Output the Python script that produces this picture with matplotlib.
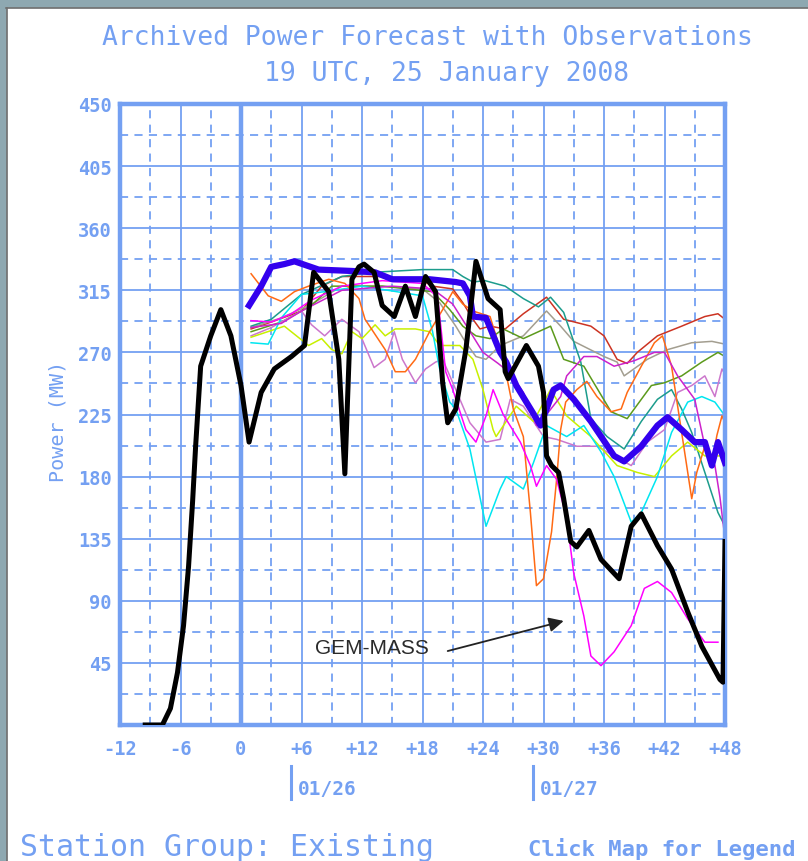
import matplotlib
matplotlib.use("Agg")
import matplotlib.pyplot as plt
from matplotlib.lines import Line2D
from matplotlib.patches import Rectangle
import numpy as np

# ---------------- data ----------------
x_ticks = [-12, -6, 0, 6, 12, 18, 24, 30, 36, 42, 48]
x_labels = ["-12", "-6", "0", "+6", "+12", "+18", "+24", "+30", "+36", "+42", "+48"]
y_ticks = [45, 90, 135, 180, 225, 270, 315, 360, 405, 450]
date_pos = [5, 29]
date_labels = ["01/26", "01/27"]

obs_h = [-9.5, -7.8, -7, -6.3, -5.7, -5.2, -4.8, -4.5, -4, -3, -2, -1, 0, 0.8, 2, 3.3, 5, 6.3, 7.2,
         8.7, 9.7, 10.3, 11, 11.7, 12.2, 13.2, 14, 15.2, 16.3, 17.3, 18.3, 19.3, 20, 20.5, 21.3, 22.3,
         23.3, 24.5, 25.7, 26.2, 26.5, 28.3, 29.5, 30, 30.3, 30.8, 31.5, 32, 32.7, 33.3, 34.5, 35.7,
         37.5, 38.7, 39.7, 41.3, 42.7, 44.3, 45.7, 47.5, 47.8, 48]
obs_mw = [0, 0, 12, 38, 72, 115, 162, 202, 260, 282, 301, 282, 246, 205, 241, 258, 267, 275, 328,
          314, 265, 182, 323, 332, 334, 328, 304, 296, 318, 296, 325, 314, 248, 219, 229, 272,
          336, 309, 301, 256, 251, 275, 260, 241, 195, 188, 183, 164, 133, 129, 141, 120,
          106, 144, 153, 130, 113, 82, 57, 33, 31, 133]

mean_h = [0.8, 2, 3, 4.3, 5.3, 7.7, 11, 13.3, 15, 18.7, 21.3, 22, 22.7, 23, 24.3, 25.7, 26.3, 27.3,
          29.3, 29.7, 31, 31.7, 33, 34.7, 37, 38, 39.7, 41.3, 42.3, 43.7, 45, 46, 46.7, 47.3, 48]
mean_mw = [304, 318, 332, 334, 336, 330, 329, 328, 323, 323, 321, 320, 311, 296, 295, 270, 263, 246,
           222, 217, 243, 246, 236, 220, 195, 191, 202, 217, 223, 214, 205, 205, 188, 205, 190]

red_h = [1, 3, 6, 8, 10, 14, 18, 19, 21, 22, 23, 23.7, 24.7, 26.2, 28, 30.3, 32, 34.7, 36, 37.3,
         38.3, 39.3, 41.3, 43.7, 46, 47.3, 48]
red_mw = [287, 292, 300, 318, 325, 325, 322, 318, 316, 306, 294, 287, 289, 287, 298, 310, 294, 289,
          282, 265, 262, 270, 282, 289, 296, 298, 294]

gray_h = [1, 4, 7, 10, 14, 18, 19.7, 21.3, 22.3, 23.3, 24.3, 25.7, 28, 30.3, 31.7, 33, 36, 37.3, 38,
          40.3, 42.3, 44.7, 46.7, 48]
gray_mw = [288, 295, 305, 318, 318, 316, 306, 289, 277, 267, 265, 275, 282, 300, 289, 278, 267, 263,
           253, 265, 272, 277, 278, 276]

olive_h = [1, 4, 7, 9, 14, 19, 20.7, 22, 23.3, 24.7, 26, 28, 30.7, 32, 34, 36.7, 38.3, 40.7, 42,
           43.7, 45.7, 47.3, 48]
olive_mw = [285, 292, 304, 318, 318, 314, 301, 289, 282, 280, 287, 280, 289, 265, 260, 227, 222, 246,
            248, 253, 263, 270, 267]

teal_h = [1, 3, 6, 10, 13, 18, 21, 22, 23, 24.2, 26.2, 28, 29.5, 30.7, 32, 33.7, 34.7, 36.3, 38,
          39.7, 41.3, 42.7, 43.7, 44.7, 46, 47.3, 48]
teal_mw = [289, 294, 312, 325, 328, 330, 330, 325, 321, 322, 318, 309, 303, 310, 299, 263, 222, 209,
           200, 220, 236, 243, 229, 212, 183, 154, 144]

cyan_h = [1, 2.7, 4, 6, 8.3, 12, 18, 19, 19.7, 20.7, 21.3, 22.7, 24.3, 25.7, 26.3, 28, 29, 30.3,
          32.3, 34, 35.7, 37, 38.7, 39.7, 41.3, 42.7, 44.3, 45.7, 47, 48]
cyan_mw = [277, 276, 295, 312, 314, 318, 311, 285, 258, 234, 229, 200, 144, 171, 180, 171, 190, 217,
           209, 217, 198, 180, 147, 154, 180, 212, 234, 238, 234, 224]

gem_h = [1, 3, 5, 7, 10, 14, 18, 19.5, 20.3, 21, 22.3, 23.3, 24.3, 25, 26, 27.7, 28.7, 29.3, 30.3,
         31.3, 32.3, 33, 34, 34.7, 35.7, 37, 38.7, 40, 41.3, 42.7, 44.3, 46, 47.3]
gem_mw = [293, 292, 298, 308, 318, 322, 320, 310, 256, 243, 214, 205, 224, 243, 225, 205, 188, 173,
          188, 178, 150, 110, 79, 50, 43, 53, 72, 99, 104, 96, 77, 60, 60]

purple_h = [1, 4, 6, 10, 15, 19, 21, 22.3, 24, 25.5, 26.7, 28, 29.3, 30.3, 31.7, 32.3, 34, 35.3, 37,
            39, 41, 42, 43.3, 45, 46, 47, 47.5, 48]
purple_mw = [288, 291, 300, 315, 318, 316, 305, 290, 270, 262, 255, 241, 217, 225, 238, 253, 267, 267,
             260, 264, 270, 270, 253, 236, 202, 188, 165, 135]

orchid_h = [1, 3, 6, 7, 8.3, 10, 11.7, 13.2, 14.3, 15.2, 16, 17.3, 18.3, 19.3, 20, 21.3, 22.7, 24.3,
            25.7, 26.7, 28, 30, 31.3, 33.3, 35.3, 37, 38.7, 40.3, 42, 43.3, 44.7, 46, 47, 47.7, 48]
orchid_mw = [282, 288, 300, 290, 282, 294, 285, 259, 265, 285, 265, 248, 258, 263, 265, 243, 219, 205,
             207, 236, 231, 209, 207, 202, 202, 195, 188, 205, 214, 241, 246, 253, 238, 258, 254]

ygreen_h = [1, 4.3, 6.7, 8, 9, 10, 11, 12, 13.3, 14.3, 15.3, 17.3, 18.7, 19.7, 21.7, 23, 24, 25,
            25.3, 27.3, 29, 30.7, 32.3, 34.7, 37.3, 39.3, 41, 42.7, 44.3, 46, 47.7, 48]
ygreen_mw = [281, 289, 275, 280, 272, 269, 285, 280, 290, 282, 287, 287, 285, 275, 275, 265, 243, 214,
             209, 231, 220, 243, 224, 209, 188, 183, 180, 195, 205, 195, 195, 200]

orange_h = [1, 2.7, 4, 5.3, 6.7, 8.7, 10.3, 11.7, 12.3, 13.3, 14.3, 15.3, 16.3, 17.3, 18.7, 20, 21,
            22, 23, 24.7, 26, 27, 28, 28.7, 29.3, 30, 30.8, 31.3, 31.7, 32.2, 33.3, 34.3, 35.3,
            36.7, 37.7, 38.3, 39.7, 41, 41.8, 42.7, 43.7, 44.7, 45.2, 46, 46.7, 47.2, 47.7, 48]
orange_mw = [327, 311, 307, 314, 318, 323, 320, 309, 294, 283, 272, 256, 256, 265, 285, 301, 314,
             305, 300, 296, 265, 229, 209, 154, 101, 106, 140, 178, 214, 234, 243, 249, 238,
             227, 229, 241, 260, 277, 282, 260, 212, 164, 183, 202, 190, 210, 224, 219]

annot_text = "GEM-MASS"

# ---------------- style ----------------
UI = "#74a0f2"
plt.rcParams['font.family'] = ['DejaVu Sans Mono', 'DejaVu Sans']

fig = plt.figure(figsize=(8.08, 8.62), dpi=100, facecolor="white")
W, H = 808.0, 862.0

# window frame (top and left)
fig.patches.append(Rectangle((0, 1 - 8 / H), 1, 8 / H, transform=fig.transFigure,
                             color="#8ea8b1", zorder=0))
fig.patches.append(Rectangle((0, 0), 6 / W, 1, transform=fig.transFigure,
                             color="#8ea8b1", zorder=0))
fig.lines.append(Line2D([6 / W, 1], [1 - 9 / H, 1 - 9 / H], transform=fig.transFigure,
                        color="#707070", lw=1.2))
fig.lines.append(Line2D([6.8 / W, 6.8 / W], [0, 1 - 9 / H], transform=fig.transFigure,
                        color="#707070", lw=1.2))

ax = fig.add_axes([120 / W, 136 / H, 605 / W, 621 / H])
ax.set_facecolor("white")
ax.set_xlim(-12, 48)
ax.set_ylim(0, 450)
ax.set_xticks(x_ticks)
ax.set_xticklabels(x_labels)
ax.set_yticks(y_ticks)
ax.set_yticklabels([str(v) for v in y_ticks])
ax.set_xticks(np.arange(-9, 48, 6), minor=True)
ax.set_yticks(np.arange(22.5, 450, 45), minor=True)
ax.grid(which='major', color=UI, lw=1.3, ls='-')
ax.grid(which='minor', color=UI, lw=1.3, ls=(0, (4.5, 3.5)))
ax.set_axisbelow(True)
ax.tick_params(which='both', length=0)
ax.tick_params(axis='y', pad=6, labelsize=13.5, labelcolor=UI)
ax.tick_params(axis='x', pad=10, labelsize=13.5, labelcolor=UI)
for lab in ax.get_xticklabels() + ax.get_yticklabels():
    lab.set_fontweight('bold')
for sp in ax.spines.values():
    sp.set_color(UI)
    sp.set_linewidth(3.2)

ax.axvline(0, color=UI, lw=3.2, zorder=1.5)

thin = [
    (red_h, red_mw, "#cc3322"),
    (gray_h, gray_mw, "#a39e90"),
    (olive_h, olive_mw, "#5c9a1c"),
    (teal_h, teal_mw, "#1c9c8c"),
    (orchid_h, orchid_mw, "#cc77cc"),
    (ygreen_h, ygreen_mw, "#c8f000"),
    (cyan_h, cyan_mw, "#00e6f0"),
    (orange_h, orange_mw, "#ff6a14"),
    (purple_h, purple_mw, "#cc22cc"),
    (gem_h, gem_mw, "#ff00ff"),
]
for hx, mw, c in thin:
    ax.plot(hx, mw, color=c, lw=1.1, zorder=2)

ax.plot(mean_h, mean_mw, color="#3300ee", lw=4.5, zorder=3, solid_joinstyle='round')
ax.plot(obs_h, obs_mw, color="black", lw=3.6, zorder=4, solid_joinstyle='round')

ax.annotate("", xy=(32, 75.4), xytext=(20.5, 53.6),
            arrowprops=dict(arrowstyle='-|>', color="#222222", lw=1.3, mutation_scale=22,
                            shrinkA=0, shrinkB=0), zorder=5)
ax.text(12.95, 56.5, annot_text, ha='center', va='center', fontsize=15,
        family='Liberation Sans', color="#2a2a2a", zorder=5)

ax.text(-0.102, 0.49, "Power (MW)", transform=ax.transAxes, rotation=90,
        ha='center', va='center', fontsize=14.5, color=UI)

# date markers below the axis
for p, lab in zip(date_pos, date_labels):
    xf = (120 + (p + 12) / 60 * 605) / W
    fig.lines.append(Line2D([xf, xf], [1 - 767 / H, 1 - 800 / H], transform=fig.transFigure,
                            color=UI, lw=2.2))
    fig.text(xf + 6 / W, 1 - 790 / H, lab, ha='left', va='center', fontsize=14,
             fontweight='bold', color=UI)

fig.text(427.5 / W, 1 - 38 / H, "Archived Power Forecast with Observations", ha='center',
         va='center', fontsize=19, color=UI)
fig.text(447 / W, 1 - 74 / H, "19 UTC, 25 January 2008", ha='center', va='center',
         fontsize=19, color=UI)
fig.text(20 / W, 1 - 848 / H, "Station Group: Existing", ha='left', va='center',
         fontsize=21.5, color=UI)
fig.text(528 / W, 1 - 849 / H, "Click Map for Legend", ha='left', va='center',
         fontsize=16, fontweight='bold', color=UI)

fig.savefig("out.png", dpi=100, facecolor="white")
